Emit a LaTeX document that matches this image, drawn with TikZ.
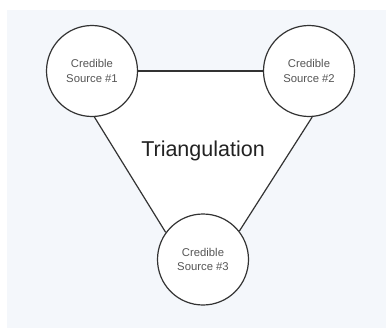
\documentclass[tikz,border=0pt]{standalone}
\usepackage{fontspec}
\setmainfont{Liberation Sans}
\usetikzlibrary{backgrounds}
\definecolor{bgblue}{HTML}{F4F7FB}
\definecolor{edge}{HTML}{333333}
\definecolor{srctext}{HTML}{555555}
\definecolor{titletext}{HTML}{222222}
\begin{document}
\begin{tikzpicture}[x=1pt,y=-1pt,
  source/.style={circle, draw=edge, line width=1.2pt, fill=white, inner sep=0pt,
    minimum size=91pt, align=center, text=srctext,
    font=\fontsize{11.3}{14.5}\selectfont},
  link/.style={draw=edge, line width=1.2pt}]
\useasboundingbox (0,0) rectangle (387,329);
\node[source] (c1) at (92,71) {Credible\\Source \#1};
\node[source] (c2) at (309,71) {Credible\\Source \#2};
\node[source] (c3) at (203,259.5) {Credible\\Source \#3};
\draw[link] (c1) -- (c2);
\draw[link] (c1.-87.5) -- (c3.144.4);
\draw[link] (c2.-86) -- (c3.38.6);
\node[text=titletext, font=\fontsize{21.5}{24}\selectfont] (title) at (203,151) {Triangulation};
\begin{scope}[on background layer]
\fill[white] (0,0) rectangle (387,329);
\fill[bgblue] (7,10) rectangle (386,328);
\fill[white] (c1.center) -- (c2.center) -- (c2.-86) -- (c3.38.6) -- (c3.144.4) -- (c1.-87.5) -- cycle;
\end{scope}
\end{tikzpicture}
\end{document}
